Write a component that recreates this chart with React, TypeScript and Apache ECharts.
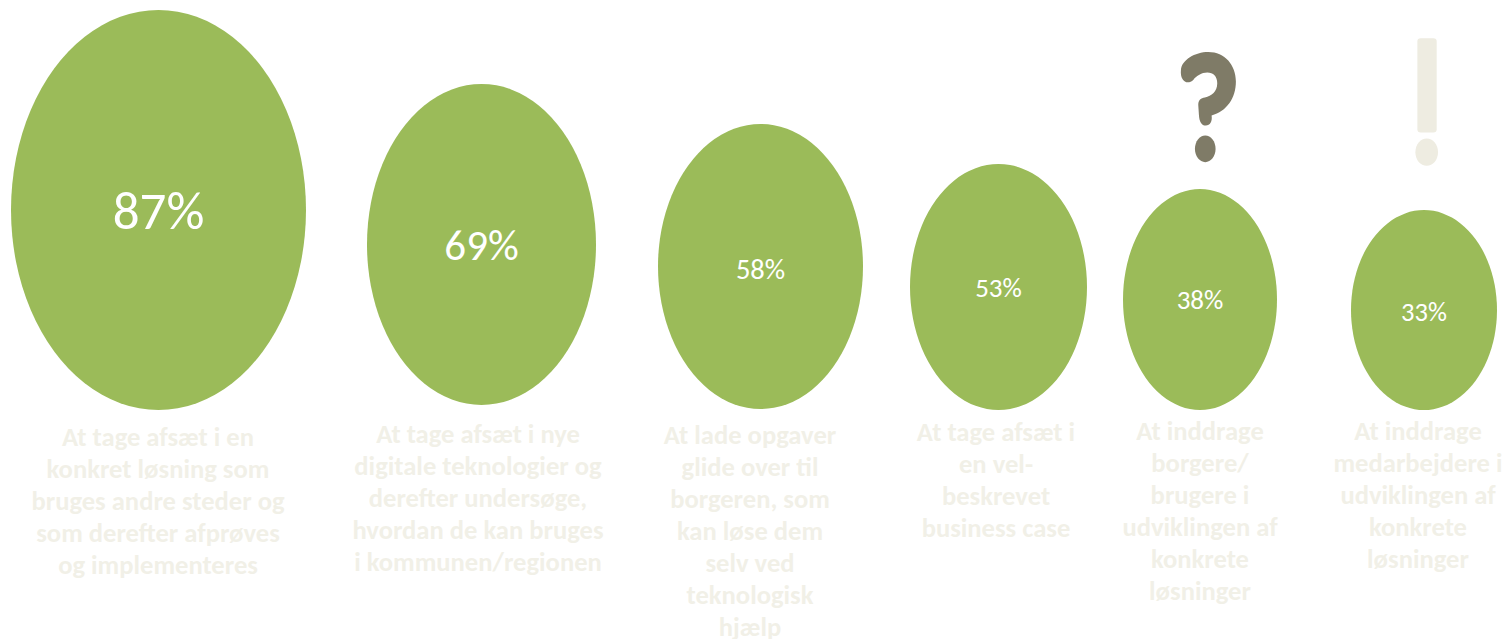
import React, { useEffect, useRef } from "react";
import * as echarts from "echarts";

const shares = [87, 69, 58, 53, 38, 33];

const statements = [
  ["At tage afsæt i en", "konkret løsning som", "bruges andre steder og", "som derefter afprøves", "og implementeres"],
  ["At tage afsæt i nye", "digitale teknologier og", "derefter undersøge,", "hvordan de kan bruges", "i kommunen/regionen"],
  ["At lade opgaver", "glide over til", "borgeren, som", "kan løse dem", "selv ved", "teknologisk", "hjælp"],
  ["At tage afsæt i", "en vel-", "beskrevet", "business case"],
  ["At inddrage", "borgere/", "brugere i", "udviklingen af", "konkrete", "løsninger"],
  ["At inddrage", "medarbejdere i", "udviklingen af", "konkrete", "løsninger"],
];

// Bubble layout on the pixel-based axes: centre x, centre y, width, height.
const bubbleX = [158.5, 481.5, 760.5, 998.5, 1200, 1424];
const bubbleY = [210, 244.5, 266.5, 287, 299.5, 310];
const bubbleW = [295, 229, 205, 177, 154, 146];
const bubbleH = [400, 321, 285, 246, 221, 200];
const shareFont = [53, 43, 28.5, 27, 27, 26.5];
const shareDrop = [1, 1, 3, 0, 0, 2];
const captionX = [158, 478, 750, 996, 1200, 1418];
const captionTop = [421, 417.5, 419, 416, 415, 415];

const GREEN = "#9BBB59";
const SAND = "#EEECE1";
const TAUPE = "#7F7B67";
const FONT = "Carlito, Lato, sans-serif";

const QUESTION_HOOK =
  "M153 150C155 120 195 96 235 96C285 96 318 135 318 185C318 235 290 275 245 287C248 305 240 317 228 317C215 317 208 305 207 285L205 255C205 240 213 235 225 233C245 228 262 215 262 190C262 170 250 158 232 158C215 158 200 168 190 180C180 190 165 190 158 178C153 170 152 160 153 150Z";

echarts.graphic.registerShape("questionHook", echarts.graphic.extendPath(QUESTION_HOOK, {}));

export default function App() {
  const ref = useRef<HTMLDivElement>(null);

  useEffect(() => {
    document.body.style.margin = "0";
    document.body.style.background = "#fff";
    const chart = echarts.init(ref.current!, undefined, { renderer: "svg" });
    chart.setOption({
      animation: false,
      backgroundColor: "#ffffff",
      grid: { left: 0, right: 0, top: 0, bottom: 0 },
      xAxis: { type: "value", min: 0, max: 1505, show: false },
      yAxis: { type: "value", min: 0, max: 639, inverse: true, show: false },
      series: [
        {
          type: "scatter",
          silent: true,
          symbol: "circle",
          data: shares.map((share, i) => ({
            value: [bubbleX[i], bubbleY[i], share],
            symbolSize: [bubbleW[i], bubbleH[i]],
            label: {
              show: true,
              position: "inside",
              offset: [0, shareDrop[i]],
              formatter: `${share}%`,
              color: "#ffffff",
              fontFamily: FONT,
              fontSize: shareFont[i],
            },
          })),
          itemStyle: { color: GREEN, opacity: 1 },
        },
        {
          type: "scatter",
          silent: true,
          symbolSize: 0,
          data: statements.map((lines, i) => ({
            value: [captionX[i], captionTop[i]],
            label: {
              show: true,
              position: "inside",
              align: "center",
              verticalAlign: "top",
              formatter: lines.join("\n"),
              color: SAND,
              fontFamily: FONT,
              fontWeight: "bold",
              fontSize: 26.6,
              lineHeight: 32,
            },
          })),
        },
      ],
      graphic: [
        {
          type: "group",
          x: 1130,
          y: 20,
          scaleX: 1 / 3,
          scaleY: 1 / 3,
          silent: true,
          children: [
            { type: "questionHook", style: { fill: TAUPE } },
            { type: "ellipse", shape: { cx: 226, cy: 387, rx: 31, ry: 40 }, style: { fill: TAUPE } },
            { type: "rect", shape: { x: 863, y: 55, width: 58, height: 283, r: 10 }, style: { fill: SAND } },
            { type: "ellipse", shape: { cx: 891, cy: 397, rx: 34, ry: 41 }, style: { fill: SAND } },
          ],
        },
      ],
    });
    return () => chart.dispose();
  }, []);

  return <div ref={ref} style={{ width: 1505, height: 639 }} />;
}
